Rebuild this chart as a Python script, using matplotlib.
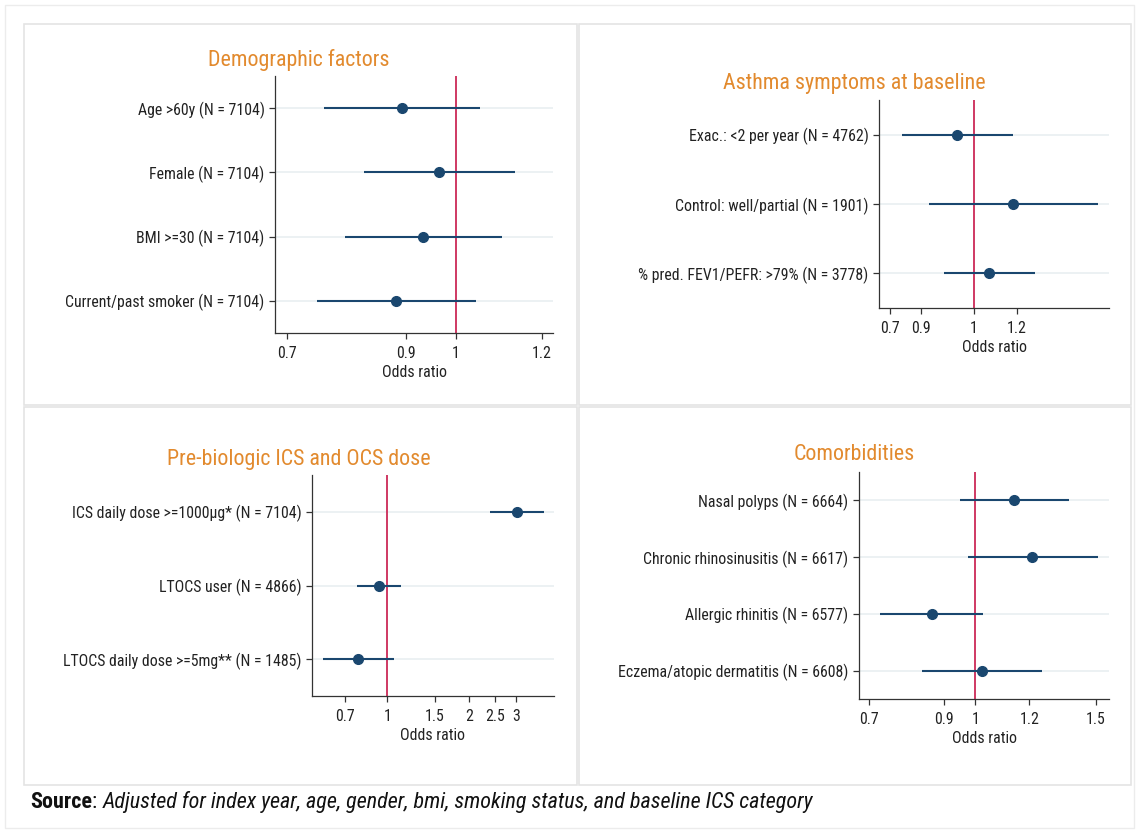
import matplotlib
matplotlib.use("Agg")
from matplotlib import pyplot as plt
from matplotlib import font_manager
from matplotlib.patches import Rectangle
from matplotlib.ticker import FixedLocator, NullLocator


W, H = 1139, 832

NAVY = "#1a476f"
RED = "#cc2a57"
ORANGE = "#e28a2e"
GRID = "#e9eff1"
BOX = "#e4e4e4"

# panel 1
demo_labels = ["Age >60y (N = 7104)", "Female (N = 7104)", "BMI >=30 (N = 7104)",
               "Current/past smoker (N = 7104)"]
demo_or = [0.893, 0.966, 0.933, 0.882]
demo_lo = [0.757, 0.824, 0.791, 0.747]
demo_hi = [1.053, 1.133, 1.102, 1.044]
demo_ticks = [0.7, 0.9, 1, 1.2]
demo_ticklabels = ["0.7", "0.9", "1", "1.2"]

# panel 2
asthma_labels = ["Exac.: <2 per year (N = 4762)", "Control: well/partial (N = 1901)",
                 "% pred. FEV1/PEFR: >79% (N = 3778)"]
asthma_or = [0.932, 1.178, 1.067]
asthma_lo = [0.737, 0.826, 0.881]
asthma_hi = [1.18, 1.69, 1.293]
asthma_ticks = [0.7, 0.8, 1, 1.2]
asthma_ticklabels = ["0.7", "0.9", "1", "1.2"]

# panel 3
dose_labels = ["ICS daily dose >=1000\u00b5g* (N = 7104)", "LTOCS user (N = 4866)",
               "LTOCS daily dose >=5mg** (N = 1485)"]
dose_or = [3.006, 0.933, 0.780]
dose_lo = [2.40, 0.775, 0.579]
dose_hi = [3.78, 1.127, 1.055]
dose_ticks = [0.7, 1, 1.5, 2, 2.5, 3]
dose_ticklabels = ["0.7", "1", "1.5", "2", "2.5", "3"]

# panel 4
comorb_labels = ["Nasal polyps (N = 6664)", "Chronic rhinosinusitis (N = 6617)",
                 "Allergic rhinitis (N = 6577)", "Eczema/atopic dermatitis (N = 6608)"]
comorb_or = [1.14, 1.212, 0.864, 1.023]
comorb_lo = [0.949, 0.975, 0.726, 0.836]
comorb_hi = [1.37, 1.513, 1.027, 1.254]
comorb_ticks = [0.7, 0.9, 1, 1.2, 1.5]
comorb_ticklabels = ["0.7", "0.9", "1", "1.2", "1.5"]


# pick a narrow sans if one is installed, otherwise shrink Liberation Sans
FONT = ["Liberation Sans", "DejaVu Sans"]
STRETCH = "normal"
SIZES = (12.3 * 0.84, 17 * 0.84, 15 * 0.84)
installed = font_manager.fontManager.ttflist
names = {f.name for f in installed}
for cand in ["Liberation Sans Narrow", "Arial Narrow", "Roboto Condensed", "Open Sans Condensed",
             "Noto Sans Condensed"]:
    if cand in names:
        FONT = [cand, "DejaVu Sans"]
        SIZES = (11.4, 15.8, 15.9)
        break
else:
    for f in installed:
        if f.name in ("Roboto", "Noto Sans", "Open Sans") and f.stretch in ("condensed", 300):
            FONT = [f.name, "DejaVu Sans"]
            STRETCH = "condensed"
            SIZES = (11.4, 15.8, 15.9)
            break

LAB, TTL, SRC = SIZES


def px_rect(x0, y0, x1, y1):
    return [x0 / W, 1 - y1 / H, (x1 - x0) / W, (y1 - y0) / H]


def forest(fig, box, title, title_xy, labels, orr, lo, hi, ticks, ticklabels, xlim):
    ax = fig.add_axes(px_rect(*box))
    n = len(labels)
    rows = list(range(1, n + 1))
    for r in rows:
        ax.axhline(r, color=GRID, lw=1.2, zorder=0)
    ax.axvline(1, color=RED, lw=1.3, zorder=1)
    ax.hlines(rows, lo, hi, color=NAVY, lw=1.5, zorder=2)
    ax.plot(orr, rows, "o", color=NAVY, ms=7, zorder=3)

    ax.set_xscale("log")
    ax.set_xlim(*xlim)
    ax.set_ylim(n + 0.5, 0.5)
    ax.xaxis.set_major_locator(FixedLocator(ticks))
    ax.xaxis.set_minor_locator(NullLocator())
    ax.set_xticklabels(ticklabels, family=FONT, stretch=STRETCH, fontsize=LAB, color="#222222")
    ax.set_yticks(rows)
    ax.set_yticklabels(labels, family=FONT, stretch=STRETCH, fontsize=LAB, color="#222222")
    ax.tick_params(axis="y", length=4.5, width=0.9, pad=3, color="#333333")
    ax.tick_params(axis="x", length=4.5, width=0.9, pad=5, color="#333333")
    ax.set_xlabel("Odds ratio", family=FONT, stretch=STRETCH, fontsize=LAB, color="#222222",
                  labelpad=2.5)
    for s in ["top", "right"]:
        ax.spines[s].set_visible(False)
    for s in ["left", "bottom"]:
        ax.spines[s].set_color("#333333")
        ax.spines[s].set_linewidth(0.9)
    fig.text(title_xy[0] / W, 1 - title_xy[1] / H, title, family=FONT, stretch=STRETCH,
             fontsize=TTL, color=ORANGE, ha="center", va="center")
    return ax


fig = plt.figure(figsize=(W / 100, H / 100), dpi=100)

# outer frame and panel boxes
fig.patches.append(Rectangle((5 / W, 1 - 828 / H), 1129 / W, 823 / H, transform=fig.transFigure,
                             fill=False, ec="#ececec", lw=1))
for x0, y0, x1, y1 in [(24, 24, 577, 405), (579, 24, 1131, 405),
                       (24, 407, 577, 785), (579, 407, 1131, 785)]:
    fig.patches.append(Rectangle((x0 / W, 1 - y1 / H), (x1 - x0) / W, (y1 - y0) / H,
                                 transform=fig.transFigure, fill=False, ec=BOX, lw=1.2))

forest(fig, (275, 76, 553, 333), "Demographic factors", (299, 60),
       demo_labels, demo_or, demo_lo, demo_hi, demo_ticks, demo_ticklabels, (0.683, 1.228))
forest(fig, (879, 100, 1109, 308), "Asthma symptoms at baseline", (854, 83),
       asthma_labels, asthma_or, asthma_lo, asthma_hi, asthma_ticks, asthma_ticklabels, (0.669, 1.77))
forest(fig, (312, 475, 554, 696), "Pre-biologic ICS and OCS dose", (299, 459),
       dose_labels, dose_or, dose_lo, dose_hi, dose_ticks, dose_ticklabels, (0.5265, 4.13))
forest(fig, (859, 472, 1109, 699), "Comorbidities", (854, 455),
       comorb_labels, comorb_or, comorb_lo, comorb_hi, comorb_ticks, comorb_ticklabels, (0.676, 1.569))

# source note: bold "Source" then italic remainder
src = fig.text(30 / W, 1 - 802 / H, "Source", family=FONT, stretch=STRETCH, fontsize=SRC,
               weight="bold", ha="left", va="center", color="#111111")
fig.canvas.draw()
bb = src.get_window_extent()
colon = fig.text(bb.x1 / W, 1 - 802 / H, ": ", family=FONT, stretch=STRETCH, fontsize=SRC,
                 ha="left", va="center", color="#111111")
fig.canvas.draw()
bb2 = colon.get_window_extent()
fig.text(bb2.x1 / W, 1 - 802 / H,
         "Adjusted for index year, age, gender, bmi, smoking status, and baseline ICS category",
         family=FONT, stretch=STRETCH, fontsize=SRC, style="italic", ha="left", va="center",
         color="#111111")

plt.savefig("out.png", dpi=100)
plt.close()
